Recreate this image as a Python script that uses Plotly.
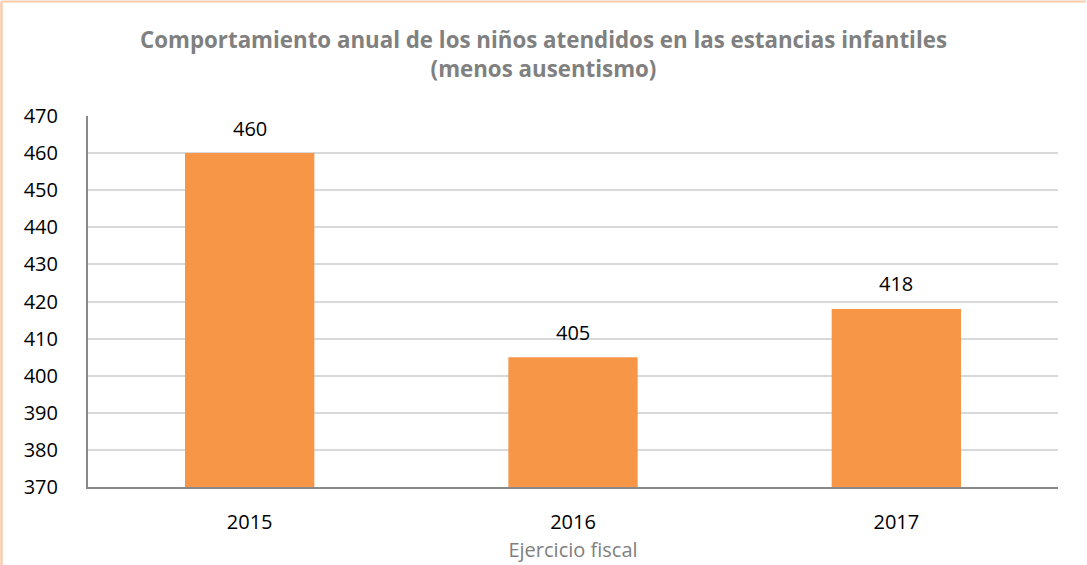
import plotly.graph_objects as go

years = ["2015", "2016", "2017"]
values = [460, 405, 418]
y_ticks = [370, 380, 390, 400, 410, 420, 430, 440, 450, 460, 470]

W, H = 1087, 565
L, R, T, B = 88, 29, 116, 78
pw, ph = W - L - R, H - T - B

fig = go.Figure()
fig.add_trace(go.Bar(
    x=years, y=values,
    marker=dict(color="#F79646", line=dict(width=0)),
    hoverinfo="x+y",
))

# value labels above bars (category index positions on the category axis)
for i, v in enumerate(values):
    fig.add_annotation(x=i, y=v, text=str(v), showarrow=False,
                       yanchor="middle", yshift=25,
                       font=dict(size=20, color="#000000", family="Open Sans"))

# light orange frame (left and top edges)
fx = (1.5 - L) / pw
fy_top = (H - B - 1.5) / ph
fy_bot = (H - B - H) / ph
fig.add_shape(type="line", xref="paper", yref="paper", x0=fx, x1=fx, y0=fy_bot, y1=fy_top,
              line=dict(color="#F8CBAD", width=2.5), layer="above")
fig.add_shape(type="line", xref="paper", yref="paper", x0=fx, x1=(W - 1 - L) / pw, y0=fy_top, y1=fy_top,
              line=dict(color="#F8CBAD", width=2), layer="above")

fig.update_layout(
    width=W, height=H,
    margin=dict(l=L, r=R, t=T, b=B, autoexpand=False),
    paper_bgcolor="white", plot_bgcolor="white",
    font=dict(family="Open Sans", color="#000000"),
    title=dict(
        text="<b>Comportamiento anual de los niños atendidos en las estancias infantiles<br>(menos ausentismo)</b>",
        x=0.5, xref="container", xanchor="center",
        y=1 - 48 / H, yref="container", yanchor="middle",
        font=dict(size=22.3, color="#808080", family="Open Sans"),
    ),
    bargap=0.6,
    showlegend=False,
    xaxis=dict(
        type="category", automargin=False,
        range=[-0.5, len(years) - 0.5],
        showline=True, linecolor="#898989", linewidth=2,
        ticks="", tickfont=dict(size=20, color="#000000"),
        ticklabelstandoff=16,
        title=dict(text="Ejercicio fiscal", font=dict(size=20, color="#808080"), standoff=9),
    ),
    yaxis=dict(
        automargin=False,
        range=[370, 470], tickvals=y_ticks,
        showline=True, linecolor="#898989", linewidth=2,
        showgrid=True, gridcolor="#D9D9D9", gridwidth=2,
        ticks="", tickfont=dict(size=20, color="#000000"),
        ticklabelstandoff=24, zeroline=False,
    ),
)

fig.write_html("out.html", config={"displayModeBar": False},
               post_script="document.body.style.margin='0';")
